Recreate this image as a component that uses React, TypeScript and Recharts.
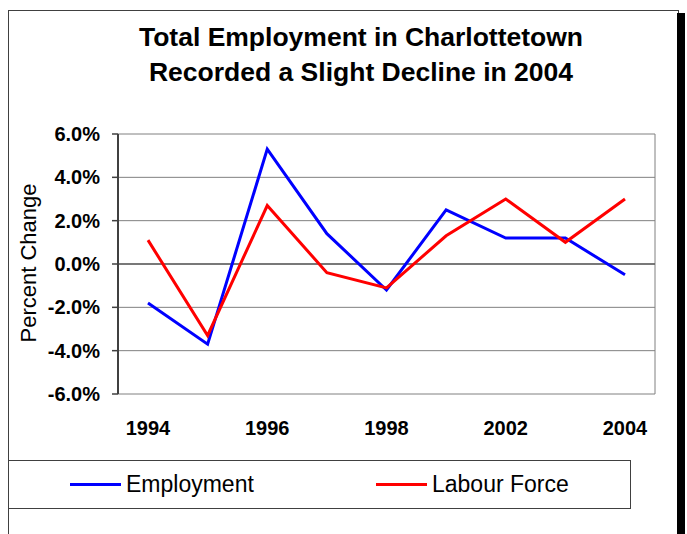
import { LineChart, Line, XAxis, YAxis, CartesianGrid, ReferenceLine, Legend } from 'recharts'

const years = ['1994', '1995', '1996', '1997', '1998', '2000', '2002', '2003', '2004']
const employment = [-1.8, -3.7, 5.3, 1.4, -1.2, 2.5, 1.2, 1.2, -0.5]
const labourForce = [1.1, -3.3, 2.7, -0.4, -1.1, 1.3, 3.0, 1.0, 3.0]
const yTicks = [-6, -4, -2, 0, 2, 4, 6]

const data = years.map((year, i) => ({
  year,
  employment: employment[i],
  labourForce: labourForce[i],
}))

const font = '"Liberation Sans", Arial, sans-serif'

const YLabel = ({ viewBox }: any) => {
  const cx = viewBox.x + 28
  const cy = viewBox.y + viewBox.height / 2 - 1
  return (
    <text
      x={cx}
      y={cy}
      transform={`rotate(-90 ${cx} ${cy})`}
      textAnchor="middle"
      dominantBaseline="central"
      fontFamily={font}
      fontSize={22}
      fill="#000"
    >
      Percent Change
    </text>
  )
}

const LegendBox = ({ payload }: any) => (
  <div
    style={{
      width: 623,
      height: 49,
      border: '1px solid #404040',
      boxSizing: 'border-box',
      position: 'relative',
      fontFamily: font,
      fontSize: 23,
    }}
  >
    {(payload || []).map((p: any, i: number) => (
      <div
        key={p.value}
        style={{ position: 'absolute', left: i === 0 ? 61 : 367, top: 10, display: 'flex', alignItems: 'center' }}
      >
        <div style={{ width: 51, height: 3, background: p.color, marginRight: 5 }} />
        <span>{p.value}</span>
      </div>
    ))}
  </div>
)

export default function App() {
  return (
    <div style={{ position: 'absolute', left: 0, top: 0, width: 687, height: 534, overflow: 'hidden', background: '#fff' }}>
      <div
        style={{
          position: 'absolute',
          left: 8,
          top: 10,
          width: 671,
          height: 540,
          border: '1px solid #404040',
          boxSizing: 'border-box',
          background: '#fff',
        }}
      />
      <div style={{ position: 'absolute', left: 677, top: 13, width: 8, height: 540, background: '#000' }} />
      <div
        style={{
          position: 'absolute',
          left: 0,
          top: 20,
          width: 722,
          textAlign: 'center',
          fontFamily: font,
          fontWeight: 'bold',
          fontSize: 26.5,
          lineHeight: '35px',
          color: '#000',
        }}
      >
        <div>Total Employment in Charlottetown</div>
        <div>Recorded a Slight Decline in 2004</div>
      </div>
      <div style={{ position: 'absolute', left: 0, top: 0 }}>
        <LineChart width={687} height={534} data={data} margin={{ top: 134, right: 32, bottom: 100, left: 0 }}>
          <CartesianGrid
            stroke="#808080"
            verticalCoordinatesGenerator={({ offset }: any) => [offset.left + offset.width]}
          />
          <ReferenceLine y={0} stroke="#606060" strokeWidth={1.5} />
          <XAxis
            dataKey="year"
            interval={1}
            axisLine={false}
            tickLine={false}
            tickSize={6}
            tickMargin={21}
            height={40}
            padding={{ left: 30, right: 30 }}
            tick={{ fontFamily: font, fontSize: 20, fontWeight: 'bold', fill: '#000' }}
          />
          <YAxis
            domain={[-6, 6]}
            ticks={yTicks}
            width={118}
            tickFormatter={(v: number) => `${v.toFixed(1)}%`}
            axisLine={{ stroke: '#404040', strokeWidth: 2 }}
            tickLine={{ stroke: '#404040', strokeWidth: 1.5 }}
            tickSize={6}
            tickMargin={12}
            tick={{ fontFamily: font, fontSize: 20, fontWeight: 'bold', fill: '#000' }}
            label={<YLabel />}
          />
          <Legend
            layout="horizontal"
            verticalAlign="middle"
            align="center"
            wrapperStyle={{ position: 'absolute', left: 8, top: 460, width: 623, height: 49 }}
            content={<LegendBox />}
          />
          <Line
            type="linear"
            dataKey="employment"
            name="Employment"
            stroke="#0000FF"
            strokeWidth={3}
            dot={false}
            isAnimationActive={false}
          />
          <Line
            type="linear"
            dataKey="labourForce"
            name="Labour Force"
            stroke="#FF0000"
            strokeWidth={3}
            dot={false}
            isAnimationActive={false}
          />
        </LineChart>
      </div>
    </div>
  )
}
